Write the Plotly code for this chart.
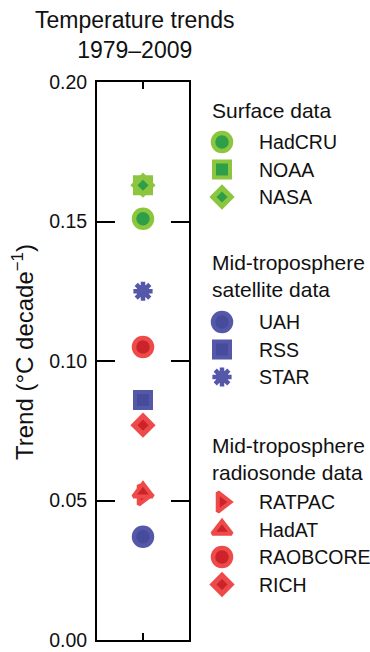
import plotly.graph_objects as go

# ---------------- data ----------------
category = ["1979–2009"]
datasets = ["HadCRU", "NOAA", "NASA", "UAH", "RSS", "STAR",
            "RATPAC", "HadAT", "RAOBCORE", "RICH"]
trends = [0.151, 0.163, 0.163, 0.037, 0.086, 0.125,
          0.052, 0.053, 0.105, 0.077]
groups = ["Surface data", "Mid-troposphere<br>satellite data",
          "Mid-troposphere<br>radiosonde data"]
group_members = [["HadCRU", "NOAA", "NASA"],
                 ["UAH", "RSS", "STAR"],
                 ["RATPAC", "HadAT", "RAOBCORE", "RICH"]]
y_ticks = [0.00, 0.05, 0.10, 0.15, 0.20]
y_tick_text = ["0.00", "0.05", "0.10", "0.15", "0.20"]

# ---------------- styles ----------------
W, H = 370, 652
FONT = "Liberation Sans, Arial, Helvetica, sans-serif"
GREEN = ("#8CC63F", "#2E9E48")
BLUE = ("#5558A8", "#474B9B")
RED = ("#EE4A4A", "#CC2229")
style = {
    "HadCRU": ("circle", 18, 4.5, GREEN),
    "NOAA": ("square", 16, 4, GREEN),
    "NASA": ("diamond", 14, 5, GREEN),
    "UAH": ("circle", 18, 4.5, BLUE),
    "RSS": ("square", 16, 4, BLUE),
    "STAR": ("star", 0, 0, BLUE),
    "RATPAC": ("triangle-right", 17, 4, RED),
    "HadAT": ("triangle-up", 17, 4, RED),
    "RAOBCORE": ("circle", 18, 4.5, RED),
    "RICH": ("diamond", 14, 5, RED),
}

fig = go.Figure()


def add_marker(name, x, y, xa, ya):
    sym, size, lw, (outer, inner) = style[name]
    if sym == "star":
        fig.add_trace(go.Scatter(x=x, y=y, xaxis=xa, yaxis=ya, mode="markers",
                                 marker=dict(symbol="circle", size=13, color=outer,
                                             line=dict(width=0)),
                                 showlegend=False, hoverinfo="skip"))
        fig.add_trace(go.Scatter(x=x, y=y, xaxis=xa, yaxis=ya, mode="markers", name=name,
                                 marker=dict(symbol="asterisk-open", size=16, color=outer,
                                             line=dict(width=4.5, color=outer)),
                                 showlegend=False))
    else:
        fig.add_trace(go.Scatter(x=x, y=y, xaxis=xa, yaxis=ya, mode="markers", name=name,
                                 marker=dict(symbol=sym, size=size, color=inner,
                                             line=dict(width=lw, color=outer)),
                                 showlegend=False))


# main plot markers
for name, val in zip(datasets, trends):
    add_marker(name, category, [val], "x", "y")

# ---------------- manual legend (pixel-space axes) ----------------
header_first = [110, 262, 445]
line_h = 27
item_gap = 27.5
first_offset = [32, 33, 30]
marker_x = 222
text_x = 257
header_x = 210
annotations = []
for gi, (gname, members) in enumerate(zip(groups, group_members)):
    nlines = gname.count("<br>") + 1
    hy = header_first[gi]
    annotations.append(dict(x=header_x, y=hy + (nlines - 1) * line_h / 2, xref="x2", yref="y2",
                            text=gname, showarrow=False, xanchor="left", yanchor="middle",
                            align="left", font=dict(size=21, color="#111")))
    y0 = hy + (nlines - 1) * line_h + first_offset[gi]
    for k, name in enumerate(members):
        yy = y0 + k * item_gap
        add_marker(name, [marker_x], [yy], "x2", "y2")
        annotations.append(dict(x=text_x, y=yy, xref="x2", yref="y2", text=name,
                                showarrow=False, xanchor="left", yanchor="middle",
                                font=dict(size=19.5, color="#111")))

# title & y-axis title
annotations.append(dict(x=134 / W, y=1 - 35 / H, xref="paper", yref="paper",
                        text="Temperature trends<br>1979–2009", showarrow=False,
                        xanchor="center", yanchor="middle", font=dict(size=23, color="#111")))
annotations.append(dict(x=23 / W, y=1 - 352 / H, xref="paper", yref="paper",
                        text="Trend (°C decade<sup>−1</sup>)", showarrow=False, textangle=-90,
                        xanchor="center", yanchor="middle", font=dict(size=24, color="#111")))

x_left, x_right, y_top, y_bot = 97, 189, 82, 640
fig.update_layout(
    width=W, height=H,
    margin=dict(l=0, r=0, t=0, b=0, pad=0, autoexpand=False),
    paper_bgcolor="white", plot_bgcolor="rgba(0,0,0,0)",
    font=dict(family=FONT, color="#111"),
    showlegend=False,
    xaxis=dict(domain=[x_left / W, x_right / W], type="category", range=[-1, 1],
               showline=True, linecolor="black", linewidth=2, mirror="ticks",
               ticks="inside", ticklen=7, tickwidth=2, tickcolor="black",
               showticklabels=False, showgrid=False, zeroline=False, automargin=False),
    yaxis=dict(domain=[1 - y_bot / H, 1 - y_top / H], range=[0, 0.2],
               tickvals=y_ticks, ticktext=y_tick_text,
               showline=True, linecolor="black", linewidth=2, mirror="ticks",
               ticks="inside", ticklen=18, tickwidth=2, tickcolor="black",
               tickfont=dict(size=19.5, color="#111"), ticklabelstandoff=4,
               showgrid=False, zeroline=False, automargin=False),
    xaxis2=dict(domain=[0, 1], range=[0, W], visible=False, anchor="y2", automargin=False),
    yaxis2=dict(domain=[0, 1], range=[H, 0], visible=False, anchor="x2", automargin=False),
    annotations=annotations,
)

fig.write_html("out.html", config={"displayModeBar": False},
               post_script="document.body.style.margin='0px';document.body.style.overflow='hidden';")
